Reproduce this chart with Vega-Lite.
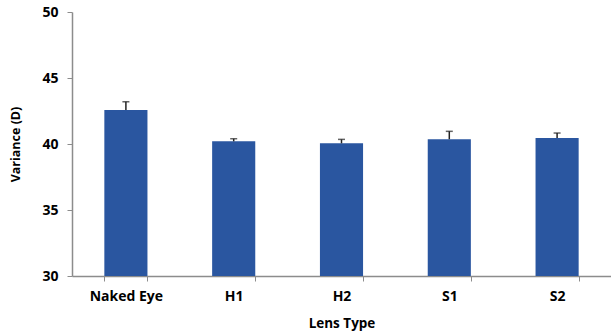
{
  "$schema": "https://vega.github.io/schema/vega-lite/v6.json",
  "autosize": {"type": "none"},
  "padding": {"left": 72, "top": 12, "right": 0, "bottom": 55},
  "width": 539,
  "height": 264,
  "background": "white",
  "config": {
    "view": {"stroke": null},
    "font": "Open Sans"
  },
  "data": {
    "values": [
      {"lens": "Naked Eye", "variance": 42.58, "err": 0.62},
      {"lens": "H1", "variance": 40.2, "err": 0.2},
      {"lens": "H2", "variance": 40.05, "err": 0.3},
      {"lens": "S1", "variance": 40.36, "err": 0.6},
      {"lens": "S2", "variance": 40.45, "err": 0.38}
    ]
  },
  "transform": [
    {"calculate": "datum.variance + datum.err", "as": "upper"}
  ],
  "encoding": {
    "x": {
      "field": "lens",
      "type": "nominal",
      "sort": null,
      "scale": {"paddingInner": 0.6, "paddingOuter": 0.3},
      "axis": {
        "title": "Lens Type",
        "labelAngle": 0,
        "labelFont": "Open Sans",
        "labelFontWeight": "bold",
        "labelFontSize": 14,
        "labelColor": "#000000",
        "labelPadding": 8,
        "titleFont": "Open Sans",
        "titleFontWeight": "bold",
        "titleFontSize": 13.5,
        "titleColor": "#000000",
        "titlePadding": 13,
        "tickBand": "extent",
        "tickSize": 5,
        "tickColor": "#8c8c8c",
        "domainColor": "#8c8c8c",
        "domainWidth": 1.5
      }
    }
  },
  "layer": [
    {
      "mark": {"type": "bar", "color": "#2A56A0"},
      "encoding": {
        "y": {
          "field": "variance",
          "type": "quantitative",
          "scale": {"domain": [30, 50], "nice": false, "zero": false},
          "axis": {
            "title": "Variance (D)",
            "values": [30, 35, 40, 45, 50],
            "grid": false,
            "labelFont": "Open Sans",
            "labelFontWeight": "bold",
            "labelFontSize": 14,
            "labelColor": "#000000",
            "labelPadding": 9,
            "titleFont": "Open Sans",
            "titleFontWeight": "bold",
            "titleFontSize": 12.5,
            "titleColor": "#000000",
            "titlePadding": 19,
            "tickSize": 5,
            "tickColor": "#8c8c8c",
            "domainColor": "#8c8c8c",
            "domainWidth": 1.5
          }
        },
        "y2": {"datum": 30}
      }
    },
    {
      "mark": {"type": "rule", "color": "#222222", "strokeWidth": 1.5},
      "encoding": {
        "y": {"field": "variance", "type": "quantitative"},
        "y2": {"field": "upper"}
      }
    },
    {
      "mark": {"type": "tick", "color": "#222222", "thickness": 1.5, "size": 7},
      "encoding": {
        "y": {"field": "upper", "type": "quantitative"}
      }
    }
  ]
}
